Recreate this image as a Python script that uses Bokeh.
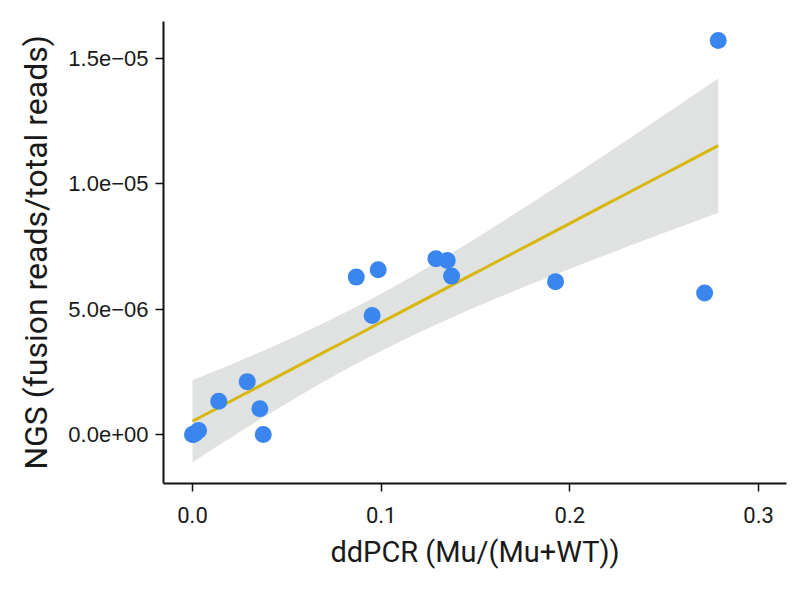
import numpy as np
from bokeh.plotting import figure
from bokeh.models import FixedTicker, Range1d, ColumnDataSource, BoxAnnotation
from bokeh.embed import file_html
from bokeh.resources import INLINE

# ---- data ----
ddpcr = [0.0000, 0.0005, 0.0015, 0.0032, 0.0139, 0.0290, 0.0357, 0.0375, 0.0868,
         0.0984, 0.0952, 0.1290, 0.1350, 0.1373, 0.1924, 0.2714, 0.2786]
ngs = [0.00e-6, 0.00e-6, 0.05e-6, 0.16e-6, 1.33e-6, 2.11e-6, 1.03e-6, 0.00e-6, 6.28e-6,
       6.57e-6, 4.75e-6, 7.01e-6, 6.94e-6, 6.32e-6, 6.10e-6, 5.65e-6, 15.72e-6]
x_ticks = [0.0, 0.1, 0.2, 0.3]
x_tick_labels = ["0.0", "0.1", "0.2", "0.3"]
y_ticks = [0.0, 5e-6, 1e-5, 1.5e-5]
y_tick_labels = ["0.0e+00", "5.0e\u221206", "1.0e\u221205", "1.5e\u221205"]
x_title = "ddPCR (Mu/(Mu+WT))"
y_title = "NGS (fusion reads/total reads)"
t_crit = 2.131  # 95% t, df = n - 2 = 15

# ---- linear fit with 95% confidence band (as geom_smooth(method="lm")) ----
x = np.array(ddpcr)
y = np.array(ngs)
n = len(x)
slope, intercept = np.polyfit(x, y, 1)
resid = y - (slope * x + intercept)
s = np.sqrt(np.sum(resid ** 2) / (n - 2))
xbar = x.mean()
sxx = np.sum((x - xbar) ** 2)
xs = np.linspace(x.min(), x.max(), 80)
fit = slope * xs + intercept
se = s * np.sqrt(1.0 / n + (xs - xbar) ** 2 / sxx)
band = ColumnDataSource(dict(x=xs, fit=fit, lo=fit - t_crit * se, hi=fit + t_crit * se))
pts = ColumnDataSource(dict(x=ddpcr, y=ngs))

TITLE_FONT = "Roboto"
REG = "'Liberation Sans', Arial, sans-serif"

W, H = 806, 589
p = figure(width=W, height=H, output_backend="svg", toolbar_location=None,
           x_range=Range1d(-0.01537, 0.3148), y_range=Range1d(-1.955e-6, 16.48e-6),
           min_border_left=163, min_border_right=20, min_border_top=21,
           min_border_bottom=106)
p.grid.visible = False
p.outline_line_color = None
p.background_fill_color = "white"
p.border_fill_color = "white"

p.varea(x="x", y1="lo", y2="hi", source=band, fill_color="#DFE2E1")
p.line(x="x", y="fit", source=band, line_color="#D8B70C", line_width=3)
p.scatter(x="x", y="y", source=pts, size=17, fill_color="#3A86EE",
          line_color="#3A86EE", line_width=0)

# thin frame around the whole image, as in the reference
p.add_layout(BoxAnnotation(left=1, right=W - 1, top=1, bottom=H - 1,
                           left_units="canvas", right_units="canvas",
                           top_units="canvas", bottom_units="canvas",
                           fill_alpha=0, line_color="#2a2a2a", line_width=2,
                           line_alpha=1, propagate_hover=False))

xa = p.xaxis[0]
xa.ticker = FixedTicker(ticks=x_ticks)
xa.major_label_overrides = dict(zip(x_ticks, x_tick_labels))
xa.axis_label = x_title
ya = p.yaxis[0]
ya.ticker = FixedTicker(ticks=y_ticks)
ya.major_label_overrides = dict(zip(y_ticks, y_tick_labels))
ya.axis_label = y_title

for ax in (xa, ya):
    ax.axis_line_color = "#111111"
    ax.axis_line_width = 2
    ax.major_tick_line_color = "#111111"
    ax.major_tick_line_width = 1.5
    ax.major_tick_out = 8
    ax.major_tick_in = 0
    ax.minor_tick_line_color = None
    ax.major_label_text_color = "#1a1a1a"
    ax.axis_label_text_color = "#1a1a1a"
    ax.axis_label_text_font_style = "normal"
    ax.axis_label_text_font = TITLE_FONT

xa.major_label_text_font = TITLE_FONT
xa.major_label_text_font_size = "22px"
xa.major_label_standoff = 15
xa.axis_label_text_font_size = "29px"
xa.axis_label_standoff = 9
ya.major_label_text_font = REG
ya.major_label_text_font_size = "22px"
ya.major_label_standoff = 7
ya.axis_label_text_font_size = "32px"
ya.axis_label_standoff = 10

open("out.html", "w").write(file_html(p, INLINE))
